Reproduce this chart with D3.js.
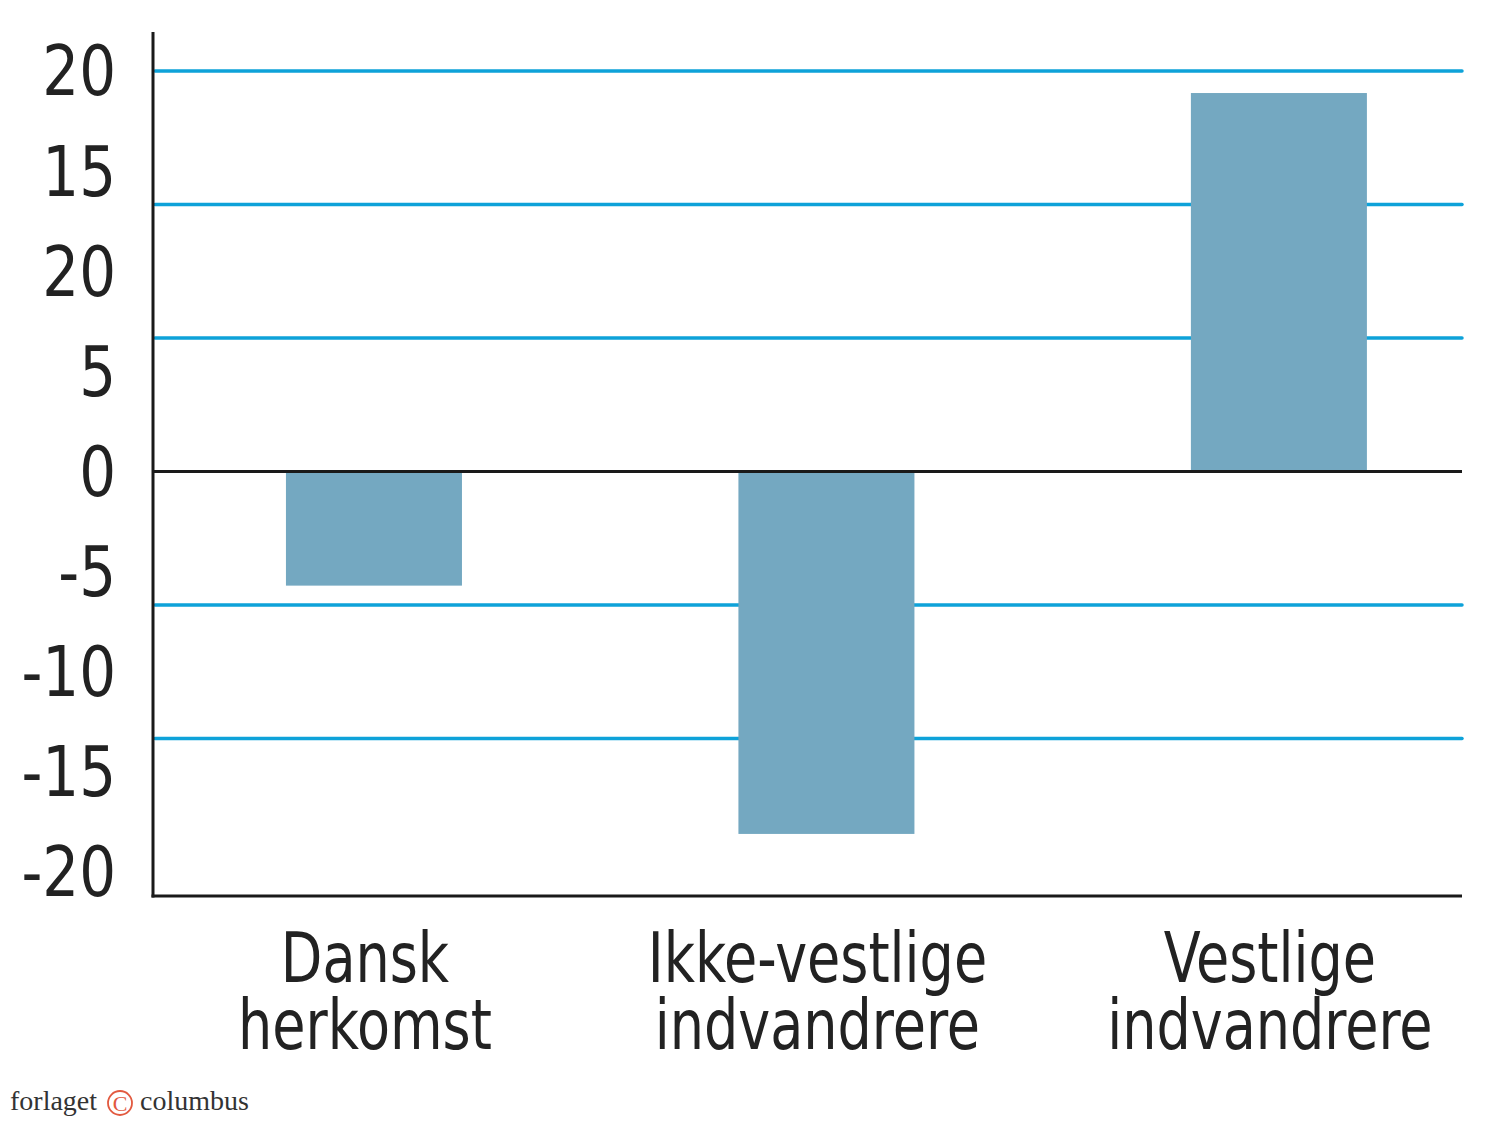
<!DOCTYPE html>
<html>
<head>
<meta charset="utf-8">
<script src="https://cdn.jsdelivr.net/npm/d3@7"></script>
<style>
  body { margin: 0; background: #fff; }
  svg { display: block; }
  .label { font-family: "Liberation Sans Narrow", "DejaVu Sans Condensed", sans-serif; font-stretch: condensed; fill: #222; }
</style>
</head>
<body>
<svg width="1500" height="1121"></svg>
<script>
// Chart data
const categories = [["Dansk", "herkomst"], ["Ikke-vestlige", "indvandrere"], ["Vestlige", "indvandrere"]];
const values = [-5.7, -18.1, 18.9];

// Y tick positions and their printed labels (the original prints "20" at 10)
const tickValues = [20, 15, 10, 5, 0, -5, -10, -15, -20];
const tickLabels = ["20", "15", "20", "5", "0", "-5", "-10", "-15", "-20"];

// Blue gridlines do not sit on the labelled ticks in the original
const gridValues = [20, 13.33, 6.67, -6.67, -13.33];

const width = 1500;
const height = 1121;
const plot = { left: 153, right: 1462, top: 71, bottom: 896 };

// horizontal squeeze to mimic the narrow typeface
const tickSqueeze = 0.92;
const catSqueeze = 0.87;

const svg = d3.select("svg");

const x = d3.scaleBand()
    .domain(categories.map(d => d.join(" ")))
    .range([plot.left, plot.right])
    .paddingInner(0.611)
    .paddingOuter(0.252)
    .align(0.583);

const y = d3.scaleLinear()
    .domain([-21.2, 20])
    .range([plot.bottom, plot.top]);

// Gridlines
svg.append("g")
    .selectAll("line")
    .data(gridValues)
    .join("line")
    .attr("x1", plot.left + 2)
    .attr("x2", plot.right)
    .attr("y1", d => y(d))
    .attr("y2", d => y(d))
    .attr("stroke", "#0ea2d9")
    .attr("stroke-width", 3.5)
    .attr("stroke-linecap", "round");

// Bars
svg.append("g")
    .selectAll("rect")
    .data(values)
    .join("rect")
    .attr("x", (d, i) => x(categories[i].join(" ")))
    .attr("width", x.bandwidth())
    .attr("y", d => y(Math.max(0, d)))
    .attr("height", d => Math.abs(y(d) - y(0)))
    .attr("fill", "#74a8c1");

// Zero line
svg.append("line")
    .attr("x1", plot.left)
    .attr("x2", plot.right)
    .attr("y1", y(0))
    .attr("y2", y(0))
    .attr("stroke", "#1a1a1a")
    .attr("stroke-width", 3);

// Bottom axis line
svg.append("line")
    .attr("x1", plot.left - 1.5)
    .attr("x2", plot.right)
    .attr("y1", y(-21.2))
    .attr("y2", y(-21.2))
    .attr("stroke", "#1a1a1a")
    .attr("stroke-width", 3);

// Y axis line
svg.append("line")
    .attr("x1", plot.left)
    .attr("x2", plot.left)
    .attr("y1", y(21.95))
    .attr("y2", y(-21.2) + 1.5)
    .attr("stroke", "#1a1a1a")
    .attr("stroke-width", 3);

// Y axis labels
const yAxis = svg.append("g")
    .attr("transform", `translate(${plot.left}, 0)`)
    .call(d3.axisLeft(y)
        .tickValues(tickValues)
        .tickFormat((d, i) => tickLabels[i])
        .tickSize(0)
        .tickPadding(37));

yAxis.select(".domain").remove();
yAxis.selectAll("text")
    .attr("class", "label")
    .attr("x", -37 / tickSqueeze)
    .attr("dy", null)
    .attr("dominant-baseline", "central")
    .attr("transform", `scale(${tickSqueeze},1)`)
    .style("font-size", "70px");

// Category labels
const cat = svg.append("g")
    .selectAll("text")
    .data(categories)
    .join("text")
    .attr("class", "label")
    .attr("text-anchor", "middle")
    .attr("transform", d => `translate(${x(d.join(" ")) + x.bandwidth() / 2 - 9},0) scale(${catSqueeze},1)`)
    .style("font-size", "69px");

cat.selectAll("tspan")
    .data(d => d)
    .join("tspan")
    .attr("x", 0)
    .attr("y", (d, i) => 982 + i * 67)
    .text(d => d);

// Publisher credit
const credit = svg.append("g")
    .style("font-family", "'Liberation Serif', 'DejaVu Serif', serif")
    .style("font-size", "28px")
    .attr("fill", "#333");

credit.append("text")
    .attr("x", 10)
    .attr("y", 1110)
    .text("forlaget");

credit.append("circle")
    .attr("cx", 120)
    .attr("cy", 1103)
    .attr("r", 12)
    .attr("fill", "none")
    .attr("stroke", "#e2593f")
    .attr("stroke-width", 1.8);

credit.append("text")
    .attr("x", 120)
    .attr("y", 1111)
    .attr("text-anchor", "middle")
    .attr("fill", "#e2593f")
    .style("font-size", "22px")
    .text("C");

credit.append("text")
    .attr("x", 140)
    .attr("y", 1110)
    .text("columbus");
</script>
</body>
</html>
